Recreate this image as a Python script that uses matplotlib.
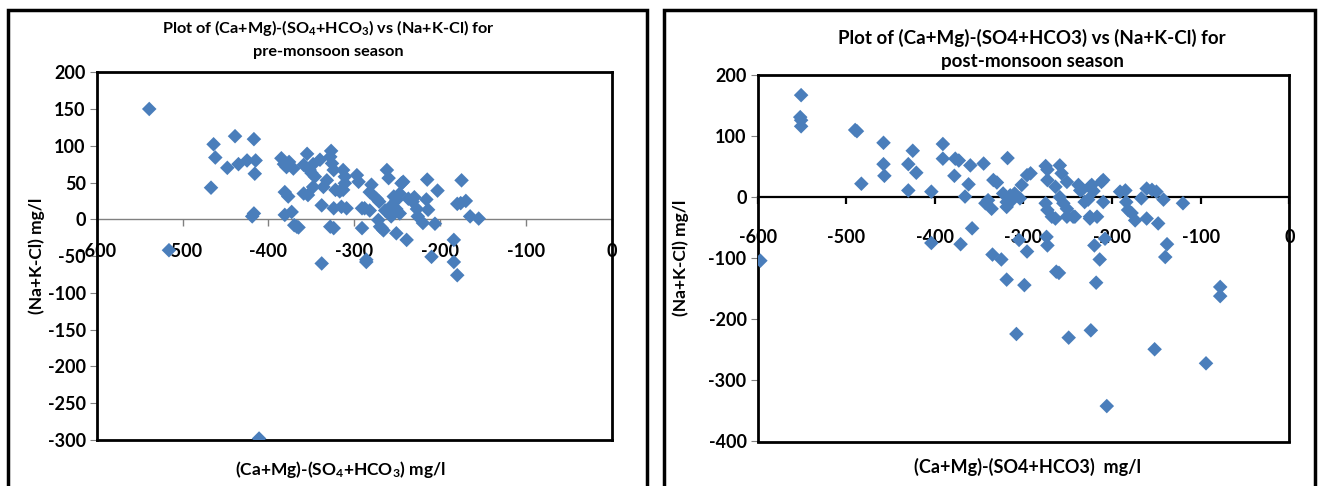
import matplotlib
matplotlib.use("Agg")
import matplotlib.pyplot as plt
from matplotlib.patches import Rectangle

plt.rcParams['font.family'] = ['Lato', 'DejaVu Sans']
plt.rcParams['mathtext.fontset'] = 'custom'
plt.rcParams['mathtext.rm'] = 'Lato:bold'
plt.rcParams['mathtext.it'] = 'Lato:bold'
plt.rcParams['mathtext.bf'] = 'Lato:bold'

# ---------------- data: pre-monsoon ----------------
pre_x = [-539, -516, -464, -462, -467, -448, -439, -435, -425, -417, -415, -416, -417, -419, -411,
         -385, -382, -379, -376, -371, -381, -377, -381, -373, -370, -365,
         -359, -355, -352, -348, -359, -354, -346, -348, -340, -338, -338, -336, -332, -328, -324,
         -327, -328, -324, -322, -324, -313, -311, -313, -309, -315, -311, -297, -295, -291, -291,
         -286, -286, -280, -282, -288, -282, -274, -271, -272, -268, -266, -264, -262, -260, -258,
         -257, -251, -254, -251, -247, -245, -251, -247, -239, -237, -230, -232, -227, -226, -220,
         -215, -216, -214, -210, -206, -203, -184, -184, -180, -180, -175, -176, -170, -165, -155,
         -326, -350, -317, -243, -367, -270]
pre_y = [150, -42, 102, 84, 43, 70, 113, 75, 80, 109, 80, 62, 8, 4, -298,
         83, 75, 71, 78, 69, 37, 31, 6, 10, -8, -11,
         74, 89, 67, 75, 35, 33, 58, 44, 81, 19, -60, 44, 53, -10, -12,
         93, 85, 67, 40, 15, 67, 58, 40, 15, 17, 49, 60, 51, 15, -12,
         -55, -58, 47, 37, 15, 12, 28, 24, -1, -12, -15, 12, 67, 56, 17,
         4, -19, 31, 26, 35, 49, 14, 8, -28, 28, 30, 24, 14, 4, -5,
         54, 27, 13, -51, -6, 39, -28, -58, -76, 21, 53, 22, 25, 4, 1,
         76, 63, 38, 51, -10, -10]

# ---------------- data: post-monsoon ----------------
post_x = [-597, -551, -552, -551, -551, -490, -488, -483, -458, -458, -457, -430, -430, -425, -421,
          -404, -404, -391, -391, -377, -373, -378, -371, -366, -362, -360, -358, -345, -334, -330,
          -343, -336, -340, -335, -325, -319, -318, -323, -315, -310, -319, -313, -304, -302, -296,
          -292, -305, -296, -299, -308, -275, -273, -273, -275, -273, -274, -273, -264, -264, -259,
          -257, -251, -259, -255, -251, -263, -260, -242, -249, -238, -234, -231, -227, -225, -223,
          -221, -217, -220, -214, -218, -224, -212, -210, -208, -206, -191, -185, -184, -182, -178,
          -174, -167, -161, -155, -150, -161, -148, -142, -138, -140, -152, -120, -94, -78, -78,
          -210, -236, -225, -319, -268, -244, -225, -251]
post_y = [-104, 167, 131, 126, 116, 110, 108, 22, 89, 54, 35, 54, 11, 76, 40,
          9, -75, 87, 63, 63, 60, 35, -77, 1, 21, 52, -51, 55, 28, 24,
          -10, -19, -5, -94, -102, -135, 64, 6, 3, 6, -8, -5, -2, 20, 36,
          39, -70, -89, -144, -224, 51, 45, 28, -10, -21, -65, -79, -35, 17, 52,
          39, 25, 0, -10, -32, -122, -124, -32, -230, 20, 12, -8, -4, -35, 20,
          10, -32, -79, -102, -140, -218, 25, -8, -68, -342, 9, 11, -8, -21, -26,
          -38, -2, 14, 12, 9, -35, -43, -4, -77, -98, -249, -10, -272, -147, -162,
          28, 11, 17, -16, -32, -32, -32, -19]

pre_yticks = [-300, -250, -200, -150, -100, -50, 0, 50, 100, 150, 200]
post_yticks = [-400, -300, -200, -100, 0, 100, 200]
xticks = [-600, -500, -400, -300, -200, -100, 0]

W, H = 1321, 486
fig = plt.figure(figsize=(W / 100, H / 100), dpi=100)

# panel borders
fig.patches.append(Rectangle((8 / W, -0.02), 639 / W, (H - 10) / H + 0.02,
                             transform=fig.transFigure, fill=False, lw=2.5,
                             edgecolor='black', clip_on=False))
fig.patches.append(Rectangle((664 / W, -0.02), 651 / W, (H - 10) / H + 0.02,
                             transform=fig.transFigure, fill=False, lw=2.5,
                             edgecolor='black', clip_on=False))

blue = '#4a7ebb'


def make_axes(rect, xs, ys, ylim, yticks, zero_color, zero_lw, xlab_pad):
    ax = fig.add_axes(rect)
    ax.scatter(xs, ys, marker='D', s=55, color=blue, edgecolors='none', zorder=3)
    ax.set_xlim(-600, 0)
    ax.set_ylim(*ylim)
    ax.set_yticks(yticks)
    ax.set_yticklabels([str(t) for t in yticks], fontsize=13, fontweight='bold')
    ax.tick_params(axis='y', direction='out', length=5, color='#808080', pad=3)
    ax.tick_params(axis='x', bottom=False, labelbottom=False)
    for sp in ax.spines.values():
        sp.set_linewidth(2)
        sp.set_color('black')
    frac = (0 - ylim[0]) / (ylim[1] - ylim[0])
    sec = ax.secondary_xaxis(frac)
    sec.xaxis.set_ticks_position('bottom')
    sec.spines['top'].set_visible(False)
    sec.spines['bottom'].set_visible(True)
    sec.set_xticks(xticks)
    sec.set_xticklabels([str(t) for t in xticks], fontsize=13, fontweight='bold')
    sec.spines['bottom'].set_color(zero_color)
    sec.spines['bottom'].set_linewidth(zero_lw)
    sec.tick_params(axis='x', which='both', bottom=True, top=False,
                    labelbottom=True, labeltop=False, direction='out', length=5,
                    color=zero_color, width=zero_lw, pad=xlab_pad)
    return ax


ax1 = make_axes([96.9 / W, 1 - 440 / H, (611.7 - 96.9) / W, (440 - 72.2) / H],
                pre_x, pre_y, (-300, 200), pre_yticks, '#808080', 1.0, 12)
ax1.set_ylabel('(Na+K-Cl) mg/l', fontsize=12.5, fontweight='bold', labelpad=2)
fig.text(340 / W, 1 - 469 / H, '(Ca+Mg)-(SO$_4$+HCO$_3$) mg/l', fontsize=12.5,
         fontweight='bold', ha='center', va='center')
fig.text(328 / W, 1 - 28 / H, 'Plot of (Ca+Mg)-(SO$_4$+HCO$_3$) vs (Na+K-Cl) for',
         fontsize=11.7, fontweight='bold', ha='center', va='center')
fig.text(328 / W, 1 - 52 / H, 'pre-monsoon season',
         fontsize=11.7, fontweight='bold', ha='center', va='center')

ax2 = make_axes([757.7 / W, 1 - 441.5 / H, (1289.3 - 757.7) / W, (441.5 - 75) / H],
                post_x, post_y, (-400, 200), post_yticks, 'black', 1.6, 18)
ax2.set_ylabel('(Na+K-Cl) mg/l', fontsize=12.5, fontweight='bold', labelpad=14)
fig.text(1027 / W, 1 - 467 / H, '(Ca+Mg)-(SO4+HCO3)  mg/l', fontsize=13,
         fontweight='bold', ha='center', va='center')
fig.text(1032 / W, 1 - 38 / H, 'Plot of (Ca+Mg)-(SO4+HCO3) vs (Na+K-Cl) for',
         fontsize=13.5, fontweight='bold', ha='center', va='center')
fig.text(1032 / W, 1 - 62 / H, 'post-monsoon season',
         fontsize=13.5, fontweight='bold', ha='center', va='center')

fig.savefig('out.png', dpi=100)
